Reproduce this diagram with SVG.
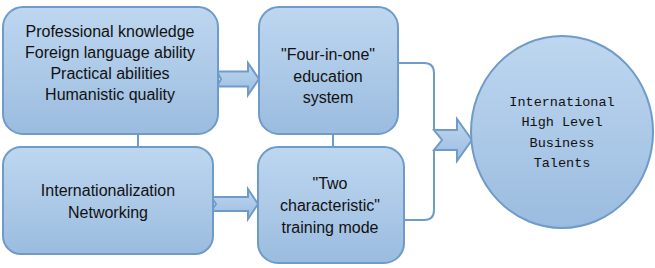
<svg xmlns="http://www.w3.org/2000/svg" width="655" height="268" viewBox="0 0 655 268">
<defs>
<linearGradient id="g" x1="0" y1="0" x2="0" y2="1">
<stop offset="0" stop-color="#bed7f0"/>
<stop offset="1" stop-color="#9bbcdf"/>
</linearGradient>
<style>
.shape{fill:url(#g);stroke:#6e9bc9;stroke-width:2}
.line{fill:none;stroke:#6e9bc9;stroke-width:2}
.t{font-family:"Liberation Sans",Arial,sans-serif;font-size:16px;fill:#111;text-anchor:middle}
.m{font-family:"Liberation Mono","Courier New",monospace;font-size:13.5px;fill:#111;text-anchor:middle}
</style>
</defs>
<rect width="655" height="268" fill="#fff"/>
<g id="connectors">
<line class="line" x1="138" y1="134" x2="138" y2="147"/>
<line class="line" x1="333" y1="134" x2="333" y2="148"/>
<polygon class="shape" points="217,71.5 248,71.5 248,63 259,79 248,95 248,86.5 217,86.5 221,79"/>
<polygon class="shape" points="211,197 248,197 248,189 258,204 248,219 248,211 211,211 216,204"/>
<path class="line" d="M398,63 H424 Q434,63 434,73 V130"/>
<path class="line" d="M434,150 V210 Q434,220 424,220 H398"/>
<polygon class="shape" points="434,130 457,130 457,119 472,140 457,161 457,150 434,150 442,140"/>
</g>
<g id="n1">
<rect class="shape" x="3" y="7" width="215" height="127" rx="20"/>
<text class="t" x="110" y="37">Professional knowledge</text>
<text class="t" x="110" y="58">Foreign language ability</text>
<text class="t" x="110" y="79">Practical abilities</text>
<text class="t" x="110" y="100">Humanistic quality</text>
</g>
<g id="n2">
<rect class="shape" x="3" y="147" width="210" height="107" rx="18"/>
<text class="t" x="108" y="196">Internationalization</text>
<text class="t" x="108" y="218">Networking</text>
</g>
<g id="n3">
<rect class="shape" x="259" y="7" width="139" height="127" rx="20"/>
<text class="t" x="328" y="60">"Four-in-one"</text>
<text class="t" x="328" y="82">education</text>
<text class="t" x="328" y="103">system</text>
</g>
<g id="n4">
<rect class="shape" x="258" y="147" width="146" height="116" rx="20"/>
<text class="t" x="330" y="189">"Two</text>
<text class="t" x="330" y="211">characteristic"</text>
<text class="t" x="330" y="233">training mode</text>
</g>
<g id="n5">
<ellipse class="shape" cx="562" cy="132" rx="91" ry="96"/>
<text class="m" x="562" y="106">International</text>
<text class="m" x="562" y="126">High Level</text>
<text class="m" x="562" y="147">Business</text>
<text class="m" x="562" y="167">Talents</text>
</g>
</svg>
